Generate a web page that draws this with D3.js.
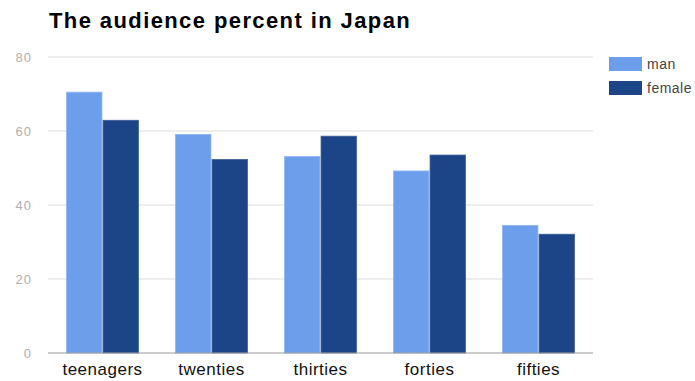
<!DOCTYPE html>
<html>
<head>
<meta charset="utf-8">
<script src="https://cdn.jsdelivr.net/npm/d3@7"></script>
<style>
  body { margin: 0; background: #fff; }
  text { font-family: "Liberation Sans", Arial, sans-serif; }
</style>
</head>
<body>
<svg width="695" height="381"></svg>
<script>
const categories = ["teenagers", "twenties", "thirties", "forties", "fifties"];
const seriesNames = ["man", "female"];
const manValues = [70.5, 59.1, 53.1, 49.2, 34.5];
const femaleValues = [62.9, 52.3, 58.6, 53.5, 32.1];
const yTicks = [0, 20, 40, 60, 80];

const colors = { man: "#6d9eeb", female: "#1c4587" };

const svg = d3.select("svg");
const plotLeft = 48, plotRight = 593, plotTop = 57, plotBottom = 353;

const x0 = d3.scaleBand()
  .domain(categories)
  .range([plotLeft, plotRight])
  .paddingInner(0.34)
  .paddingOuter(0.17);

const x1 = d3.scaleBand()
  .domain(seriesNames)
  .range([0, x0.bandwidth()])
  .paddingInner(0.03);

const y = d3.scaleLinear().domain([0, 80]).range([plotBottom, plotTop]);

// title
svg.append("text")
  .attr("x", 49)
  .attr("y", 27.5)
  .style("font-size", "22px")
  .style("font-weight", "bold")
  .style("letter-spacing", "1.4px")
  .attr("fill", "#000")
  .text("The audience percent in Japan");

// gridlines
svg.append("g")
  .selectAll("line")
  .data(yTicks.filter(d => d > 0))
  .enter()
  .append("line")
  .attr("x1", plotLeft)
  .attr("x2", plotRight)
  .attr("y1", d => y(d))
  .attr("y2", d => y(d))
  .style("stroke", "#dcdcdc");

// y labels
svg.append("g")
  .selectAll("text")
  .data(yTicks)
  .enter()
  .append("text")
  .attr("x", 32)
  .attr("y", d => y(d) + 4.5)
  .attr("text-anchor", "end")
  .style("font-size", "13px")
  .style("letter-spacing", "1px")
  .attr("fill", "#b0b0b0")
  .text(d => d);

// bars
const rows = categories.map((c, i) => ({ cat: c, man: manValues[i], female: femaleValues[i] }));
const groups = svg.append("g")
  .selectAll("g")
  .data(rows)
  .enter()
  .append("g")
  .attr("transform", d => `translate(${x0(d.cat)},0)`);

groups.selectAll("rect")
  .data(d => seriesNames.map(s => ({ key: s, value: d[s] })))
  .enter()
  .append("rect")
  .attr("x", d => x1(d.key))
  .attr("y", d => y(d.value))
  .attr("width", x1.bandwidth())
  .attr("height", d => y(0) - y(d.value))
  .attr("fill", d => colors[d.key])
  .style("stroke", d => d.key === "man" ? "#8fb6f2" : "#3d5f98")
  .style("stroke-width", 0.8);

// baseline
svg.append("line")
  .attr("x1", plotLeft)
  .attr("x2", plotRight)
  .attr("y1", plotBottom)
  .attr("y2", plotBottom)
  .style("stroke", "#999");

// x labels
svg.append("g")
  .selectAll("text")
  .data(categories)
  .enter()
  .append("text")
  .attr("x", d => x0(d) + x0.bandwidth() / 2)
  .attr("y", 375)
  .attr("text-anchor", "middle")
  .style("font-size", "17px")
  .style("letter-spacing", "0.5px")
  .attr("fill", "#111")
  .text(d => d);

// legend
const legend = svg.append("g")
  .selectAll("g")
  .data(seriesNames)
  .enter()
  .append("g")
  .attr("transform", (d, i) => `translate(609,${57 + i * 24})`);

legend.append("rect")
  .attr("width", 33)
  .attr("height", 14)
  .attr("fill", d => colors[d]);

legend.append("text")
  .attr("x", 38)
  .attr("y", 12)
  .style("font-size", "14px")
  .style("letter-spacing", "0.5px")
  .attr("fill", "#444")
  .text(d => d);
</script>
</body>
</html>
